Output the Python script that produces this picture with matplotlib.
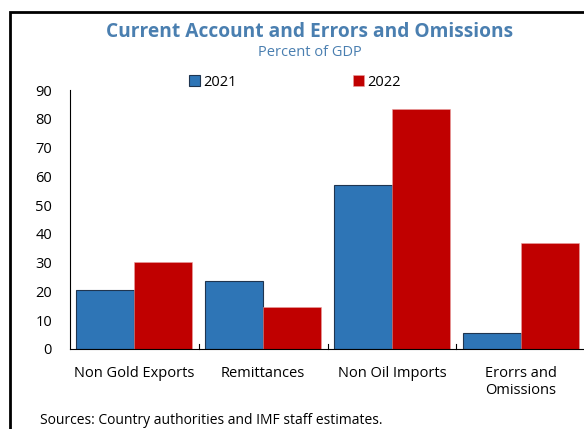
import matplotlib.pyplot as plt
import numpy as np
from matplotlib.patches import Rectangle

plt.rcParams['font.family'] = ['Open Sans', 'DejaVu Sans']

categories = ["Non Gold Exports", "Remittances", "Non Oil Imports", "Erorrs and\nOmissions"]
annees = ["2021", "2022"]
val_2021 = [20.5, 23.6, 57.0, 5.5]
val_2022 = [30.2, 14.6, 83.4, 36.8]
couleurs = ["#2e75b6", "#c00000"]
bleu_titre = "#4a7fb0"

W, H = 584, 429
fig = plt.figure(figsize=(W/100, H/100), dpi=100)
# axes en pixels : gauche 70, droite 585, bas 349, haut 90
ax = fig.add_axes([70/W, 1-349/H, (585-70)/W, (349-90)/H])

x = np.arange(len(categories))
larg = 0.45
b1 = ax.bar(x-larg/2, val_2021, larg, color=couleurs[0], edgecolor="#1f3550", linewidth=0.8, label=annees[0])
b2 = ax.bar(x+larg/2, val_2022, larg, color=couleurs[1], edgecolor="#e8a0a0", linewidth=0.4, label=annees[1])

ax.set_xlim(-0.5, 3.5)
ax.set_ylim(0, 90)
ax.set_yticks(range(0, 91, 10))
ax.tick_params(axis='y', length=0, pad=13, labelsize=10.5)
ax.set_xticks(x)
ax.set_xticklabels(categories, fontsize=10.5)
ax.tick_params(axis='x', length=0, pad=12)
# petits traits entre categories
for sep in [0.5, 1.5, 2.5]:
	ax.plot([sep, sep], [0, 1.6], color="black", lw=0.8, clip_on=False)
for s in ['top', 'right']:
	ax.spines[s].set_visible(False)
ax.spines['left'].set_linewidth(0.8)
ax.spines['bottom'].set_linewidth(0.8)

fig.text(310/W, 1-32/H, "Current Account and Errors and Omissions", ha='center', va='center',
		 fontsize=13.8, fontweight='bold', color=bleu_titre)
fig.text(310/W, 1-53/H, "Percent of GDP", ha='center', va='center', fontsize=10.5, color=bleu_titre)

fig.legend(handles=[b1, b2], labels=annees, loc='center', bbox_to_anchor=(295/W, 1-82/H),
		   ncol=2, frameon=False, fontsize=10.5, handlelength=0.7, handleheight=0.7,
		   handletextpad=0.25, columnspacing=8.0)

fig.text(40/W, 1-421/H, "Sources: Country authorities and IMF staff estimates.", ha='left', va='center', fontsize=10)

# cadre
fig.patches.append(Rectangle((10/W, -0.2), 1.2, 1.2-12/H, transform=fig.transFigure,
							 fill=False, edgecolor='black', linewidth=2, clip_on=False))

plt.savefig("out.png", dpi=100)
